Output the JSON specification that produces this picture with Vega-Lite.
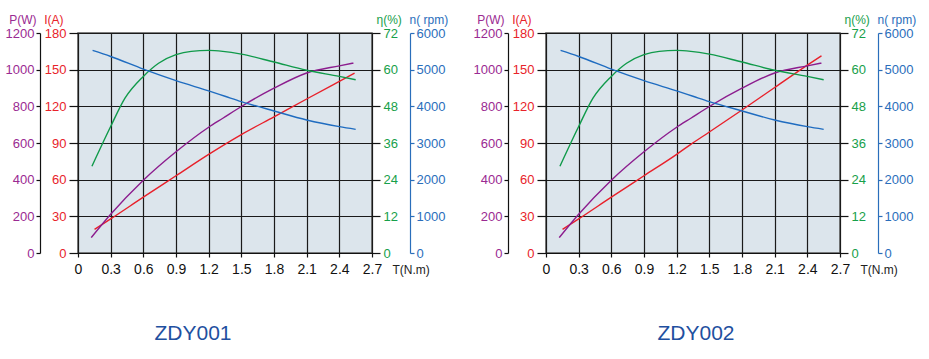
{
  "$schema": "https://vega.github.io/schema/vega-lite/v6.json",
  "padding": {"left": 4, "top": 12, "right": 5, "bottom": 5},
  "spacing": 23,
  "datasets": {
    "zdy001": [
      {"s": "n", "T": 0.134, "v": 5524}, {"s": "n", "T": 0.3, "v": 5360}, {"s": "n", "T": 0.6, "v": 5014}, {"s": "n", "T": 0.9, "v": 4700}, {"s": "n", "T": 1.2, "v": 4420}, {"s": "n", "T": 1.35, "v": 4275}, {"s": "n", "T": 1.5, "v": 4130}, {"s": "n", "T": 1.8, "v": 3874}, {"s": "n", "T": 2.1, "v": 3628}, {"s": "n", "T": 2.4, "v": 3446}, {"s": "n", "T": 2.55, "v": 3373},
      {"s": "e", "T": 0.128, "v": 28.4}, {"s": "e", "T": 0.3, "v": 41.4}, {"s": "e", "T": 0.43, "v": 50.6}, {"s": "e", "T": 0.6, "v": 57.8}, {"s": "e", "T": 0.74, "v": 62.1}, {"s": "e", "T": 0.9, "v": 64.9}, {"s": "e", "T": 1.04, "v": 66.0}, {"s": "e", "T": 1.2, "v": 66.3}, {"s": "e", "T": 1.33, "v": 66.0}, {"s": "e", "T": 1.5, "v": 65.1}, {"s": "e", "T": 1.8, "v": 62.5}, {"s": "e", "T": 2.1, "v": 59.8}, {"s": "e", "T": 2.4, "v": 57.8}, {"s": "e", "T": 2.55, "v": 56.7},
      {"s": "P", "T": 0.122, "v": 84}, {"s": "P", "T": 0.3, "v": 211}, {"s": "P", "T": 0.6, "v": 397}, {"s": "P", "T": 0.9, "v": 552}, {"s": "P", "T": 1.2, "v": 686}, {"s": "P", "T": 1.33, "v": 735}, {"s": "P", "T": 1.5, "v": 799}, {"s": "P", "T": 1.8, "v": 899}, {"s": "P", "T": 2.1, "v": 982}, {"s": "P", "T": 2.4, "v": 1021}, {"s": "P", "T": 2.53, "v": 1036},
      {"s": "I", "T": 0.152, "v": 19.4}, {"s": "I", "T": 0.3, "v": 27.9}, {"s": "I", "T": 0.6, "v": 45.7}, {"s": "I", "T": 0.9, "v": 63.2}, {"s": "I", "T": 1.2, "v": 80.7}, {"s": "I", "T": 1.5, "v": 96.9}, {"s": "I", "T": 1.8, "v": 111.4}, {"s": "I", "T": 2.1, "v": 126}, {"s": "I", "T": 2.4, "v": 140.4}, {"s": "I", "T": 2.54, "v": 147.1}
    ],
    "zdy002": [
      {"s": "n", "T": 0.134, "v": 5524}, {"s": "n", "T": 0.3, "v": 5360}, {"s": "n", "T": 0.6, "v": 5014}, {"s": "n", "T": 0.9, "v": 4700}, {"s": "n", "T": 1.2, "v": 4420}, {"s": "n", "T": 1.35, "v": 4275}, {"s": "n", "T": 1.5, "v": 4130}, {"s": "n", "T": 1.8, "v": 3874}, {"s": "n", "T": 2.1, "v": 3628}, {"s": "n", "T": 2.4, "v": 3446}, {"s": "n", "T": 2.55, "v": 3373},
      {"s": "e", "T": 0.128, "v": 28.4}, {"s": "e", "T": 0.3, "v": 41.4}, {"s": "e", "T": 0.43, "v": 50.6}, {"s": "e", "T": 0.6, "v": 57.8}, {"s": "e", "T": 0.74, "v": 62.1}, {"s": "e", "T": 0.9, "v": 64.9}, {"s": "e", "T": 1.04, "v": 66.0}, {"s": "e", "T": 1.2, "v": 66.3}, {"s": "e", "T": 1.33, "v": 66.0}, {"s": "e", "T": 1.5, "v": 65.1}, {"s": "e", "T": 1.8, "v": 62.5}, {"s": "e", "T": 2.1, "v": 59.8}, {"s": "e", "T": 2.4, "v": 57.8}, {"s": "e", "T": 2.55, "v": 56.7},
      {"s": "P", "T": 0.122, "v": 84}, {"s": "P", "T": 0.3, "v": 211}, {"s": "P", "T": 0.6, "v": 397}, {"s": "P", "T": 0.9, "v": 552}, {"s": "P", "T": 1.2, "v": 686}, {"s": "P", "T": 1.33, "v": 735}, {"s": "P", "T": 1.5, "v": 799}, {"s": "P", "T": 1.8, "v": 899}, {"s": "P", "T": 2.1, "v": 982}, {"s": "P", "T": 2.4, "v": 1021}, {"s": "P", "T": 2.53, "v": 1036},
      {"s": "I", "T": 0.152, "v": 19.4}, {"s": "I", "T": 0.3, "v": 27.9}, {"s": "I", "T": 0.6, "v": 45.7}, {"s": "I", "T": 0.9, "v": 63.2}, {"s": "I", "T": 1.2, "v": 80.7}, {"s": "I", "T": 1.33, "v": 88.9}, {"s": "I", "T": 1.5, "v": 99}, {"s": "I", "T": 1.8, "v": 117}, {"s": "I", "T": 2.1, "v": 135.4}, {"s": "I", "T": 2.4, "v": 153.7}, {"s": "I", "T": 2.53, "v": 161.4}
    ]
  },
  "hconcat": [
    {
      "width": 294, "height": 220,
      "title": {"text": "ZDY001", "orient": "bottom", "anchor": "middle", "frame": "group", "dx": -32, "offset": 47, "fontSize": 21, "fontWeight": "normal", "color": "#1f50a0"},
      "data": {"name": "zdy001"},
      "encoding": {"x": {"field": "T", "type": "quantitative", "scale": {"domain": [0, 2.7], "nice": false, "zero": false},
        "axis": {"values": [0, 0.3, 0.6, 0.9, 1.2, 1.5, 1.8, 2.1, 2.4, 2.7], "format": ".2~f", "grid": true, "title": "T(N.m)", "titleX": 314, "titleY": 20, "titleAlign": "left", "titleBaseline": "alphabetic", "titleFontSize": 12, "titleFontWeight": "normal", "titleColor": "#222", "labelFontSize": 14, "labelColor": "#111", "tickSize": 4, "labelPadding": 5, "domainColor": "#111", "tickColor": "#111", "labelFlush": false}}},
      "layer": [
        {"transform": [{"filter": "datum.s === 'I'"}], "mark": {"type": "line", "color": "#e8202a", "interpolate": "monotone", "strokeWidth": 1.4},
         "encoding": {"y": {"field": "v", "type": "quantitative", "scale": {"domain": [0, 180], "nice": false},
           "axis": {"orient": "left", "offset": 0, "values": [0, 30, 60, 90, 120, 150, 180], "format": "d", "grid": true, "domain": false, "tickSize": 9, "tickColor": "#111", "labelPadding": 3, "labelColor": "#e8232a", "labelFontSize": 13, "title": "I(A)", "titleAngle": 0, "titleX": -15, "titleY": -10, "titleAlign": "right", "titleBaseline": "alphabetic", "titleColor": "#e8232a", "titleFontSize": 12, "titleFontWeight": "normal"}}}},
        {"transform": [{"filter": "datum.s === 'P'"}], "mark": {"type": "line", "color": "#8c1d8e", "interpolate": "monotone", "strokeWidth": 1.4},
         "encoding": {"y": {"field": "v", "type": "quantitative", "scale": {"domain": [0, 1200], "nice": false},
           "axis": {"orient": "left", "offset": 38, "values": [0, 200, 400, 600, 800, 1000, 1200], "format": "d", "grid": false, "domain": true, "domainColor": "#111", "tickSize": 4, "tickColor": "#111", "labelPadding": 2, "labelColor": "#9a2a92", "labelFontSize": 13, "title": "P(W)", "titleAngle": 0, "titleX": -4, "titleY": -10, "titleAlign": "right", "titleBaseline": "alphabetic", "titleColor": "#9a2a92", "titleFontSize": 12, "titleFontWeight": "normal"}}}},
        {"transform": [{"filter": "datum.s === 'e'"}], "mark": {"type": "line", "color": "#109a4a", "interpolate": "monotone", "strokeWidth": 1.4},
         "encoding": {"y": {"field": "v", "type": "quantitative", "scale": {"domain": [0, 72], "nice": false},
           "axis": {"orient": "right", "offset": 0, "values": [0, 12, 24, 36, 48, 60, 72], "format": "d", "grid": false, "domain": false, "tickSize": 8, "tickColor": "#111", "labelPadding": 3, "labelColor": "#17a04a", "labelFontSize": 13, "title": "η(%)", "titleAngle": 0, "titleX": 4, "titleY": -10, "titleAlign": "left", "titleBaseline": "alphabetic", "titleColor": "#17a04a", "titleFontSize": 12, "titleFontWeight": "normal"}}}},
        {"transform": [{"filter": "datum.s === 'n'"}], "mark": {"type": "line", "color": "#1f6cc0", "interpolate": "monotone", "strokeWidth": 1.4},
         "encoding": {"y": {"field": "v", "type": "quantitative", "scale": {"domain": [0, 6000], "nice": false},
           "axis": {"orient": "right", "offset": 38, "values": [0, 1000, 2000, 3000, 4000, 5000, 6000], "format": "d", "grid": false, "domain": true, "domainColor": "#2a6ebb", "tickSize": 4, "tickColor": "#2a6ebb", "labelPadding": 2, "labelColor": "#2a6ebb", "labelFontSize": 13, "title": "n( rpm)", "titleAngle": 0, "titleX": -1, "titleY": -10, "titleAlign": "left", "titleBaseline": "alphabetic", "titleColor": "#2a6ebb", "titleFontSize": 12, "titleFontWeight": "normal"}}}}
      ],
      "resolve": {"scale": {"y": "independent"}}
    },
    {
      "width": 294, "height": 220,
      "title": {"text": "ZDY002", "orient": "bottom", "anchor": "middle", "frame": "group", "dx": 3, "offset": 47, "fontSize": 21, "fontWeight": "normal", "color": "#1f50a0"},
      "data": {"name": "zdy002"},
      "encoding": {"x": {"field": "T", "type": "quantitative", "scale": {"domain": [0, 2.7], "nice": false, "zero": false},
        "axis": {"values": [0, 0.3, 0.6, 0.9, 1.2, 1.5, 1.8, 2.1, 2.4, 2.7], "format": ".2~f", "grid": true, "title": "T(N.m)", "titleX": 314, "titleY": 20, "titleAlign": "left", "titleBaseline": "alphabetic", "titleFontSize": 12, "titleFontWeight": "normal", "titleColor": "#222", "labelFontSize": 14, "labelColor": "#111", "tickSize": 4, "labelPadding": 5, "domainColor": "#111", "tickColor": "#111", "labelFlush": false}}},
      "layer": [
        {"transform": [{"filter": "datum.s === 'I'"}], "mark": {"type": "line", "color": "#e8202a", "interpolate": "monotone", "strokeWidth": 1.4},
         "encoding": {"y": {"field": "v", "type": "quantitative", "scale": {"domain": [0, 180], "nice": false},
           "axis": {"orient": "left", "offset": 0, "values": [0, 30, 60, 90, 120, 150, 180], "format": "d", "grid": true, "domain": false, "tickSize": 9, "tickColor": "#111", "labelPadding": 3, "labelColor": "#e8232a", "labelFontSize": 13, "title": "I(A)", "titleAngle": 0, "titleX": -15, "titleY": -10, "titleAlign": "right", "titleBaseline": "alphabetic", "titleColor": "#e8232a", "titleFontSize": 12, "titleFontWeight": "normal"}}}},
        {"transform": [{"filter": "datum.s === 'P'"}], "mark": {"type": "line", "color": "#8c1d8e", "interpolate": "monotone", "strokeWidth": 1.4},
         "encoding": {"y": {"field": "v", "type": "quantitative", "scale": {"domain": [0, 1200], "nice": false},
           "axis": {"orient": "left", "offset": 38, "values": [0, 200, 400, 600, 800, 1000, 1200], "format": "d", "grid": false, "domain": true, "domainColor": "#111", "tickSize": 4, "tickColor": "#111", "labelPadding": 2, "labelColor": "#9a2a92", "labelFontSize": 13, "title": "P(W)", "titleAngle": 0, "titleX": -4, "titleY": -10, "titleAlign": "right", "titleBaseline": "alphabetic", "titleColor": "#9a2a92", "titleFontSize": 12, "titleFontWeight": "normal"}}}},
        {"transform": [{"filter": "datum.s === 'e'"}], "mark": {"type": "line", "color": "#109a4a", "interpolate": "monotone", "strokeWidth": 1.4},
         "encoding": {"y": {"field": "v", "type": "quantitative", "scale": {"domain": [0, 72], "nice": false},
           "axis": {"orient": "right", "offset": 0, "values": [0, 12, 24, 36, 48, 60, 72], "format": "d", "grid": false, "domain": false, "tickSize": 8, "tickColor": "#111", "labelPadding": 3, "labelColor": "#17a04a", "labelFontSize": 13, "title": "η(%)", "titleAngle": 0, "titleX": 4, "titleY": -10, "titleAlign": "left", "titleBaseline": "alphabetic", "titleColor": "#17a04a", "titleFontSize": 12, "titleFontWeight": "normal"}}}},
        {"transform": [{"filter": "datum.s === 'n'"}], "mark": {"type": "line", "color": "#1f6cc0", "interpolate": "monotone", "strokeWidth": 1.4},
         "encoding": {"y": {"field": "v", "type": "quantitative", "scale": {"domain": [0, 6000], "nice": false},
           "axis": {"orient": "right", "offset": 38, "values": [0, 1000, 2000, 3000, 4000, 5000, 6000], "format": "d", "grid": false, "domain": true, "domainColor": "#2a6ebb", "tickSize": 4, "tickColor": "#2a6ebb", "labelPadding": 2, "labelColor": "#2a6ebb", "labelFontSize": 13, "title": "n( rpm)", "titleAngle": 0, "titleX": -1, "titleY": -10, "titleAlign": "left", "titleBaseline": "alphabetic", "titleColor": "#2a6ebb", "titleFontSize": 12, "titleFontWeight": "normal"}}}}
      ],
      "resolve": {"scale": {"y": "independent"}}
    }
  ],
  "config": {
    "font": "Liberation Sans",
    "background": "white",
    "view": {"fill": "#dce5ec", "stroke": "#555", "strokeWidth": 1.5},
    "axis": {"gridColor": "#1a1a1a", "gridWidth": 1.2, "gridOpacity": 1, "domainWidth": 1.2, "tickWidth": 1.2, "labelFont": "Liberation Sans", "titleFont": "Liberation Sans"},
    "title": {"font": "Liberation Sans"}
  }
}
